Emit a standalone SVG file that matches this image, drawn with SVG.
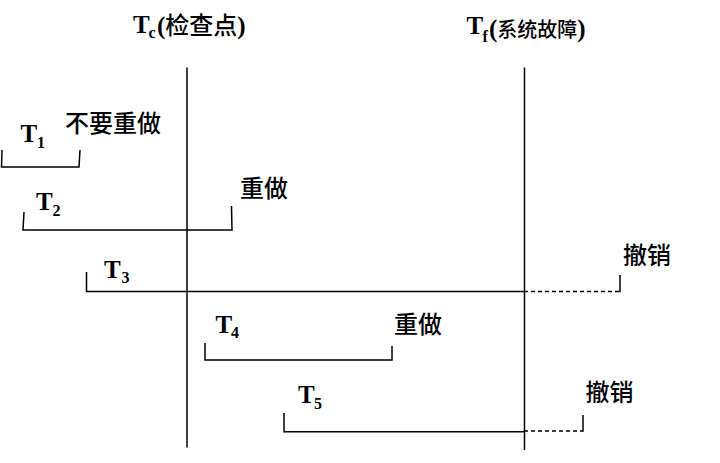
<svg xmlns="http://www.w3.org/2000/svg" width="720" height="463" viewBox="0 0 720 463">
<style>
.t{font-family:"Liberation Serif","Times New Roman",serif;font-weight:bold;font-size:25px;fill:#000}
.s{font-family:"Liberation Serif","Times New Roman",serif;font-weight:bold;font-size:16px;fill:#000}
.c{font-family:"Noto Sans CJK SC","Noto Sans CJK TC",sans-serif;font-weight:500;font-size:24px;fill:#000}
.ln{stroke:#000;stroke-width:1.5;fill:none}
.dash{stroke:#000;stroke-width:1.5;fill:none;stroke-dasharray:4 3}
</style>
<rect width="720" height="463" fill="#fff"/>
<g id="axis-tc">
<line class="ln" x1="187" y1="67.5" x2="187" y2="447.5" stroke="#222" stroke-width="1.8"/>
<text x="133" y="33" class="t">T</text><text x="148.5" y="37.5" class="s">c</text>
<text x="157" y="34"><tspan class="t">(</tspan><tspan class="c">检查点</tspan><tspan class="t">)</tspan></text>
</g>
<g id="axis-tf">
<line class="ln" x1="524.5" y1="67.5" x2="524.5" y2="450"/>
<text x="466.5" y="34.3" class="t">T</text><text x="482.5" y="41.5" class="s">f</text>
<text x="489" y="37"><tspan class="t">(</tspan><tspan class="c" style="font-size:20px">系统故障</tspan><tspan class="t">)</tspan></text>
</g>
<g id="connectors">
<polyline class="ln" points="2,150 1.5,167 79,167 80,150"/>
<polyline class="ln" points="24,212 23,230 232,230 231.5,206"/>
<polyline class="ln" points="86.5,272 86.5,291.5 524,291.5"/>
<line class="dash" x1="524" y1="291.5" x2="620" y2="291.5"/>
<line class="ln" x1="620" y1="275" x2="620" y2="292.2"/>
<polyline class="ln" points="205,343 205,360 392,360 392,346"/>
<polyline class="ln" points="284,413 284,431.8 524,431.8"/>
<line class="dash" x1="524" y1="431" x2="583" y2="431"/>
<line class="ln" x1="583" y1="415" x2="583" y2="431.7"/>
</g>
<g id="t1">
<text x="20.5" y="142" class="t">T</text><text x="37" y="147.5" class="s">1</text>
<text x="65" y="131.5" class="c">不要重做</text>
</g>
<g id="t2">
<text x="36" y="210" class="t">T</text><text x="52.5" y="215.5" class="s">2</text>
<text x="240" y="196.5" class="c">重做</text>
</g>
<g id="t3">
<text x="104" y="277.7" class="t">T</text><text x="121.5" y="283" class="s">3</text>
<text x="623" y="263.5" class="c">撤销</text>
</g>
<g id="t4">
<text x="215.5" y="333" class="t">T</text><text x="231" y="337.5" class="s">4</text>
<text x="394" y="332.5" class="c">重做</text>
</g>
<g id="t5">
<text x="298" y="403.3" class="t">T</text><text x="314" y="408.5" class="s">5</text>
<text x="585.5" y="400.5" class="c">撤销</text>
</g>
</svg>
